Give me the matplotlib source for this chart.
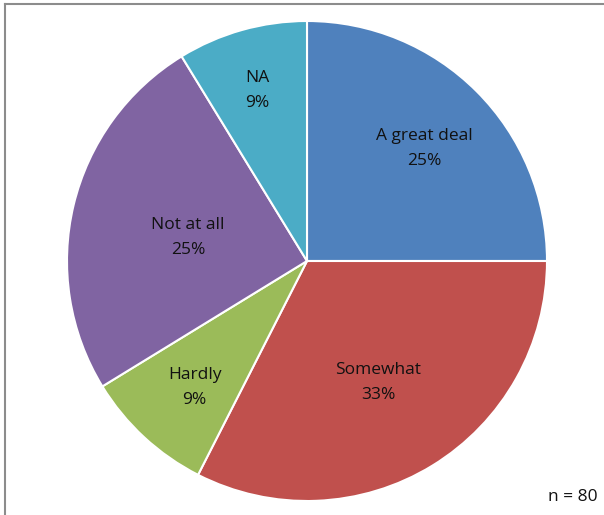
import matplotlib
matplotlib.use("Agg")
import matplotlib.pyplot as plt
from matplotlib.lines import Line2D
import numpy as np

categories = ["A great deal", "Somewhat", "Hardly", "Not at all", "NA"]
counts = [20, 26, 7, 20, 7]
n_total = 80
colors = ["#4F81BD", "#C0504D", "#9BBB59", "#8064A2", "#4BACC6"]
label_radius = [0.69, 0.57, 0.69, 0.51, 0.76]

W, H = 604, 515
fig = plt.figure(figsize=(W / 100, H / 100), dpi=100)
ax = fig.add_axes([0, 0, 1, 1])

cx, cy, R = 307, H - 261, 240
wedges, _ = ax.pie(counts, colors=colors, startangle=90, counterclock=False,
                   center=(cx, cy), radius=R, frame=True,
                   wedgeprops=dict(edgecolor="white", linewidth=1.5))
ax.set_xlim(0, W)
ax.set_ylim(0, H)
ax.set_aspect("equal")
ax.axis("off")

font = ["Open Sans", "DejaVu Sans"]
for w, cat, c, rf in zip(wedges, categories, counts, label_radius):
    mid = np.deg2rad((w.theta1 + w.theta2) / 2)
    x = cx + rf * R * np.cos(mid)
    y = cy + rf * R * np.sin(mid) - 5
    pct = int(100 * c / n_total + 0.5)
    ax.text(x, y, f"{cat}\n{pct}%", ha="center", va="center", fontsize=12.5,
            family=font, color="#111111", linespacing=1.75)

fig.text(598 / W, 1 - 497 / H, f"n = {n_total}", ha="right", va="center",
         fontsize=12.5, family=font, color="#111111")

# chart area border (left and top edges visible)
fig.add_artist(Line2D([5 / W, 5 / W], [0, 1 - 4 / H], transform=fig.transFigure,
                      color="#8c8c8c", linewidth=1.5))
fig.add_artist(Line2D([5 / W, 1], [1 - 4 / H, 1 - 4 / H], transform=fig.transFigure,
                      color="#8c8c8c", linewidth=1.5))

fig.savefig("out.png", dpi=100)
